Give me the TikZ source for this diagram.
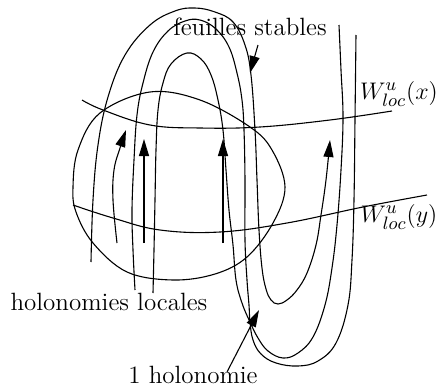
\documentclass[tikz,border=0pt]{standalone}
\usepackage{tikz}
\usetikzlibrary{arrows.meta}
\tikzset{
  feuille/.style={line width=0.55pt},
  fleche/.style={line width=0.55pt,-{Triangle[length=8.5pt,width=5pt]}},
  lisse/.style={smooth,tension=0.65},
  etiquette/.style={inner sep=0pt,font=\fontsize{12.5}{15}\selectfont}
}

\begin{document}
\begin{tikzpicture}[x=0.5pt,y=-0.5pt]
  \useasboundingbox (0,0) rectangle (441,386);
  \draw[feuille] plot[smooth cycle,tension=0.6] coordinates {(73,187) (78,150) (100,113) (150,92) (200,100) (250,127) (272,150) (285,187) (273,223) (247,257) (215,274) (173,280) (127,272) (93,243) (76,212)};
  \draw[feuille] plot[lisse] coordinates {(82,100) (103,110) (150,125) (200,128) (260,127) (330,120) (392,111)};
  \draw[feuille] plot[lisse] coordinates {(73,205) (113,218) (160,230) (220,232) (287,223) (363,207) (427,195)};
  \draw[fleche] plot[lisse] coordinates {(91,262) (93,200) (98,145) (108,97) (125,55) (150,25) (175,11) (195,8) (215,12) (233,22) (245,45) (251,75) (255,130) (257,180) (259,230) (262,268) (266,289) (271,300) (278,304) (287,300) (297,290) (307,273) (316,245) (321,215) (326,180) (330,140)};
  \draw[feuille] plot[lisse] coordinates {(135,290) (133,250) (132,210) (134,160) (137,115) (143,83) (153,52) (168,31) (185,21) (200,20) (216,29) (229,47) (237,73) (242,100) (244,130) (245,180) (245,240) (247,280) (249,305) (250,322) (253,340) (261,354) (276,363) (298,366) (318,361) (336,343) (348,305) (352,260) (354,200) (355,120) (356,35)};
  \draw[feuille] plot[lisse] coordinates {(153,293) (154,250) (155,200) (156,150) (158,110) (163,83) (171,64) (187,53) (201,59) (211,75) (218,100) (223,130) (226,170) (229,210) (233,245) (236,280) (242,303) (250,322) (258,338) (268,351) (283,358) (298,353) (313,337) (325,305) (332,268) (337,225) (341,170) (343,117) (341,70) (339,25)};
  \draw[fleche] plot[lisse] coordinates {(117,243) (113,200) (114,170) (120,148) (126,130)};
  \draw[fleche] (144,243) -- (144,139);
  \draw[fleche] (223,243) -- (223,139);
  \node[etiquette] (fs) at (250,27) {feuilles stables};
  \node[etiquette] (wx) at (399,94) {$W^u_{loc}(x)$};
  \node[etiquette] (wy) at (399,217) {$W^u_{loc}(y)$};
  \node[etiquette] (hl) at (109,302) {holonomies locales};
  \node[etiquette] (h1) at (193,375) {1 holonomie};
  \coordinate (fs-a) at (258,45);
  \coordinate (fs-b) at (250,73);
  \coordinate (h1-a) at (227,372);
  \coordinate (h1-b) at (259,310);
  \draw[fleche] (fs-a) -- (fs-b);
  \draw[fleche] (h1-a) -- (h1-b);
\end{tikzpicture}
\end{document}
